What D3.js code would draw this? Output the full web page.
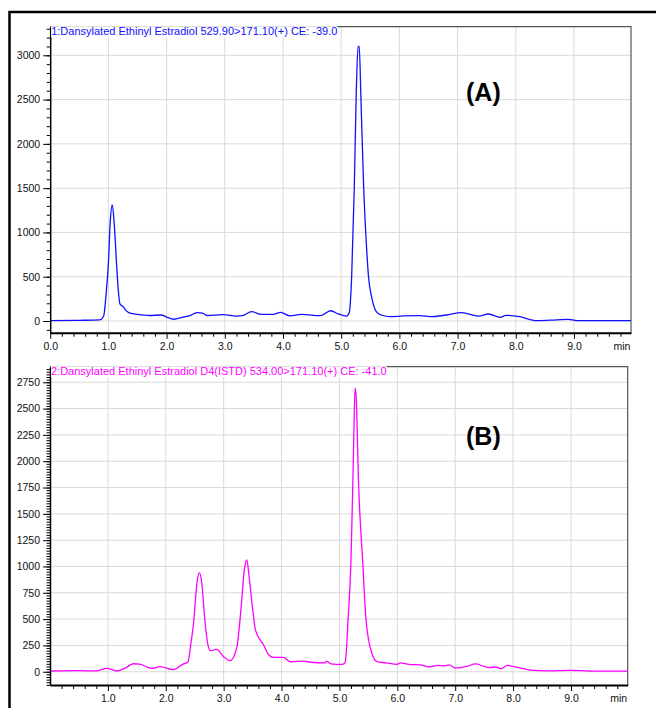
<!DOCTYPE html>
<html>
<head>
<meta charset="utf-8">
<script src="https://cdn.jsdelivr.net/npm/d3@7"></script>
<style>
  body { margin: 0; background: #fff; }
  svg { display: block; font-family: Arial, "Liberation Sans", sans-serif; }
</style>
</head>
<body>
<svg id="chart" width="656" height="708"></svg>
<script>
// trace A : analyte
const titleA = "1:Dansylated Ethinyl Estradiol 529.90>171.10(+) CE: -39.0";
const timeA = [0, 0.5, 0.85, 0.92, 0.96, 1.0, 1.03, 1.067, 1.1, 1.14, 1.17, 1.2, 1.25, 1.3, 1.37, 1.5, 1.71, 1.9, 2.0, 2.12,
               2.29, 2.4, 2.52, 2.62, 2.69, 2.97, 3.2, 3.3, 3.46, 3.63, 3.83, 3.96, 4.12, 4.32, 4.64, 4.82, 4.95, 5.09,
               5.14, 5.18, 5.225, 5.26, 5.29, 5.31, 5.34, 5.387, 5.43, 5.47, 5.53, 5.61, 5.7, 5.84, 6.07, 6.35, 6.53,
               6.81, 7.07, 7.36, 7.53, 7.73, 7.83, 8.07, 8.36, 8.6, 8.9, 9.05, 9.5, 9.98];
const signalA = [5, 8, 12, 60, 300, 650, 1100, 1310, 1100, 650, 350, 190, 165, 120, 90, 75, 62, 68, 45, 20,
                 45, 60, 94, 90, 62, 71, 55, 60, 105, 75, 75, 98, 57, 75, 60, 116, 80, 56,
                 100, 500, 1500, 2600, 3100, 3100, 2500, 1500, 900, 500, 250, 100, 65, 49, 57, 60, 49,
                 68, 94, 56, 79, 42, 64, 49, 4, 10, 19, 4, 5, 5];
const yTicksA = [0, 500, 1000, 1500, 2000, 2500, 3000];
const xTicksA = [0, 1, 2, 3, 4, 5, 6, 7, 8, 9];

// trace B : internal standard
const titleB = "2:Dansylated Ethinyl Estradiol D4(ISTD) 534.00>171.10(+) CE: -41.0";
const timeB = [0, 0.5, 0.8, 0.98, 1.16, 1.3, 1.44, 1.55, 1.76, 1.9, 2.13, 2.3, 2.38, 2.43, 2.48, 2.54, 2.58, 2.62, 2.68,
               2.73, 2.77, 2.88, 3.0, 3.11, 3.18, 3.24, 3.3, 3.36, 3.4, 3.44, 3.5, 3.55, 3.69, 3.78, 3.86, 4.03, 4.15,
               4.4, 4.5, 4.75, 4.78, 4.85, 5.05, 5.1, 5.15, 5.2, 5.24, 5.27, 5.29, 5.33, 5.4, 5.46, 5.56, 5.65, 5.8,
               6.0, 6.05, 6.2, 6.4, 6.55, 6.7, 6.8, 6.9, 7.0, 7.2, 7.35, 7.5, 7.6, 7.7, 7.8, 7.9, 8.0, 8.1, 8.3,
               8.6, 9.0, 9.5, 9.98];
const signalB = [7, 10, 8, 32, 7, 35, 76, 72, 32, 48, 20, 73, 90, 250, 463, 850, 941, 850, 463,
                 250, 200, 213, 143, 105, 150, 270, 600, 980, 1062, 900, 600, 396, 254, 159, 137, 137, 95,
                 100, 90, 85, 100, 75, 70, 90, 500, 1065, 2000, 2697, 2600, 1800, 1065, 491, 175, 95, 85,
                 70, 85, 70, 65, 45, 60, 55, 65, 35, 50, 75, 50, 40, 45, 30, 60, 50, 40, 15,
                 8, 12, 5, 5];
const yTicksB = [0, 250, 500, 750, 1000, 1250, 1500, 1750, 2000, 2250, 2500, 2750];
const xTicksB = [1, 2, 3, 4, 5, 6, 7, 8, 9];

const svg = d3.select("#chart");

// outer frame (runs off the right / bottom of the picture)
svg.append("path")
   .attr("d", "M9.5,720 L9.5,12 L670,12")
   .attr("fill", "none")
   .attr("stroke", "#000")
   .attr("stroke-width", 2.5);

const draw_panel = (cfg) => {
    const xScale = d3.scaleLinear().domain([0, 9.98]).range([cfg.left, cfg.right]);
    const yScale = d3.scaleLinear().domain(cfg.yDomain).range([cfg.bottom, cfg.top]);
    const g = svg.append("g");

    // grid
    g.append("g")
     .selectAll("line")
     .data(cfg.xTicks.filter(d => d > 0))
     .join("line")
        .attr("x1", d => xScale(d)).attr("x2", d => xScale(d))
        .attr("y1", cfg.top).attr("y2", cfg.bottom)
        .attr("stroke", "#dadada");
    g.append("g")
     .selectAll("line")
     .data(cfg.yTicks)
     .join("line")
        .attr("x1", cfg.left).attr("x2", cfg.right)
        .attr("y1", d => yScale(d)).attr("y2", d => yScale(d))
        .attr("stroke", "#dadada");

    // top/right frame
    g.append("path")
     .attr("d", `M${cfg.left},${cfg.top} H${cfg.right} V${cfg.bottom}`)
     .attr("fill", "none")
     .attr("stroke", "#555")
     .attr("stroke-width", 1.2);

    // trace
    const line = d3.line()
                   .x(d => xScale(d[0]))
                   .y(d => yScale(d[1]))
                   .curve(d3.curveMonotoneX);
    g.append("path")
     .datum(cfg.time.map((t, i) => [t, cfg.signal[i]]))
     .attr("d", line)
     .attr("fill", "none")
     .attr("stroke", cfg.color)
     .attr("stroke-width", 1.3);

    // y minor ticks
    const yMinor = d3.range(Math.ceil(cfg.yDomain[0] / cfg.yMinorStep) * cfg.yMinorStep, cfg.yDomain[1], cfg.yMinorStep);
    g.append("g")
     .attr("transform", `translate(${cfg.left},0)`)
     .call(d3.axisLeft(yScale).tickValues(yMinor).tickSize(3.5).tickFormat(""))
     .call(s => s.select(".domain").remove());

    // y axis
    g.append("g")
     .attr("transform", `translate(${cfg.left},0)`)
     .call(d3.axisLeft(yScale).tickValues(cfg.yTicks).tickSize(7).tickPadding(3).tickSizeOuter(0)
             .tickFormat(d3.format("d")))
     .call(s => s.selectAll("text").attr("font-size", 10.5).attr("fill", "#111"))
     .call(s => s.select(".domain").attr("stroke-width", 1.5));

    // x minor ticks
    const xMinor = d3.range(0.2, 9.9, 0.2).filter(d => Math.abs(d - Math.round(d)) > 0.01);
    g.append("g")
     .attr("transform", `translate(0,${cfg.bottom})`)
     .call(d3.axisBottom(xScale).tickValues(xMinor).tickSize(4).tickFormat(""))
     .call(s => s.select(".domain").remove());

    // x axis
    g.append("g")
     .attr("transform", `translate(0,${cfg.bottom})`)
     .call(d3.axisBottom(xScale).tickValues(cfg.xTicks).tickSize(6).tickPadding(4).tickSizeOuter(0)
             .tickFormat(d3.format(".1f")))
     .call(s => s.selectAll("text").attr("font-size", 10.5).attr("fill", "#111"))
     .call(s => s.select(".domain").attr("stroke-width", 2));

    g.append("text")
     .attr("x", cfg.right - 9)
     .attr("y", cfg.bottom + 17)
     .attr("text-anchor", "middle")
     .attr("font-size", 10.5)
     .attr("fill", "#111")
     .text("min");

    // trace title on a white box
    const bg = g.append("rect").attr("fill", "#fff");
    const title = g.append("text")
                   .attr("x", cfg.left + 1)
                   .attr("y", cfg.top + 8.5)
                   .attr("font-size", 11)
                   .attr("fill", cfg.color)
                   .text(cfg.title);
    const bb = title.node().getBBox();
    bg.attr("x", bb.x).attr("y", bb.y + 1).attr("width", bb.width).attr("height", bb.height - 1);

    g.append("text")
     .attr("x", cfg.labelX)
     .attr("y", cfg.labelY)
     .attr("font-size", 25)
     .attr("font-weight", "bold")
     .attr("fill", "#000")
     .text(cfg.label);
};

draw_panel({
    left: 50.2, right: 631, top: 26.7, bottom: 332.7,
    yDomain: [-132, 3323], yTicks: yTicksA, yMinorStep: 100,
    xTicks: xTicksA, time: timeA, signal: signalA,
    color: "#1010ff", title: titleA, label: "(A)", labelX: 466, labelY: 101
});

draw_panel({
    left: 50, right: 627.7, top: 366.7, bottom: 685,
    yDomain: [-126, 2898], yTicks: yTicksB, yMinorStep: 25,
    xTicks: xTicksB, time: timeB, signal: signalB,
    color: "#ff00ff", title: titleB, label: "(B)", labelX: 466, labelY: 445
});
</script>
</body>
</html>
